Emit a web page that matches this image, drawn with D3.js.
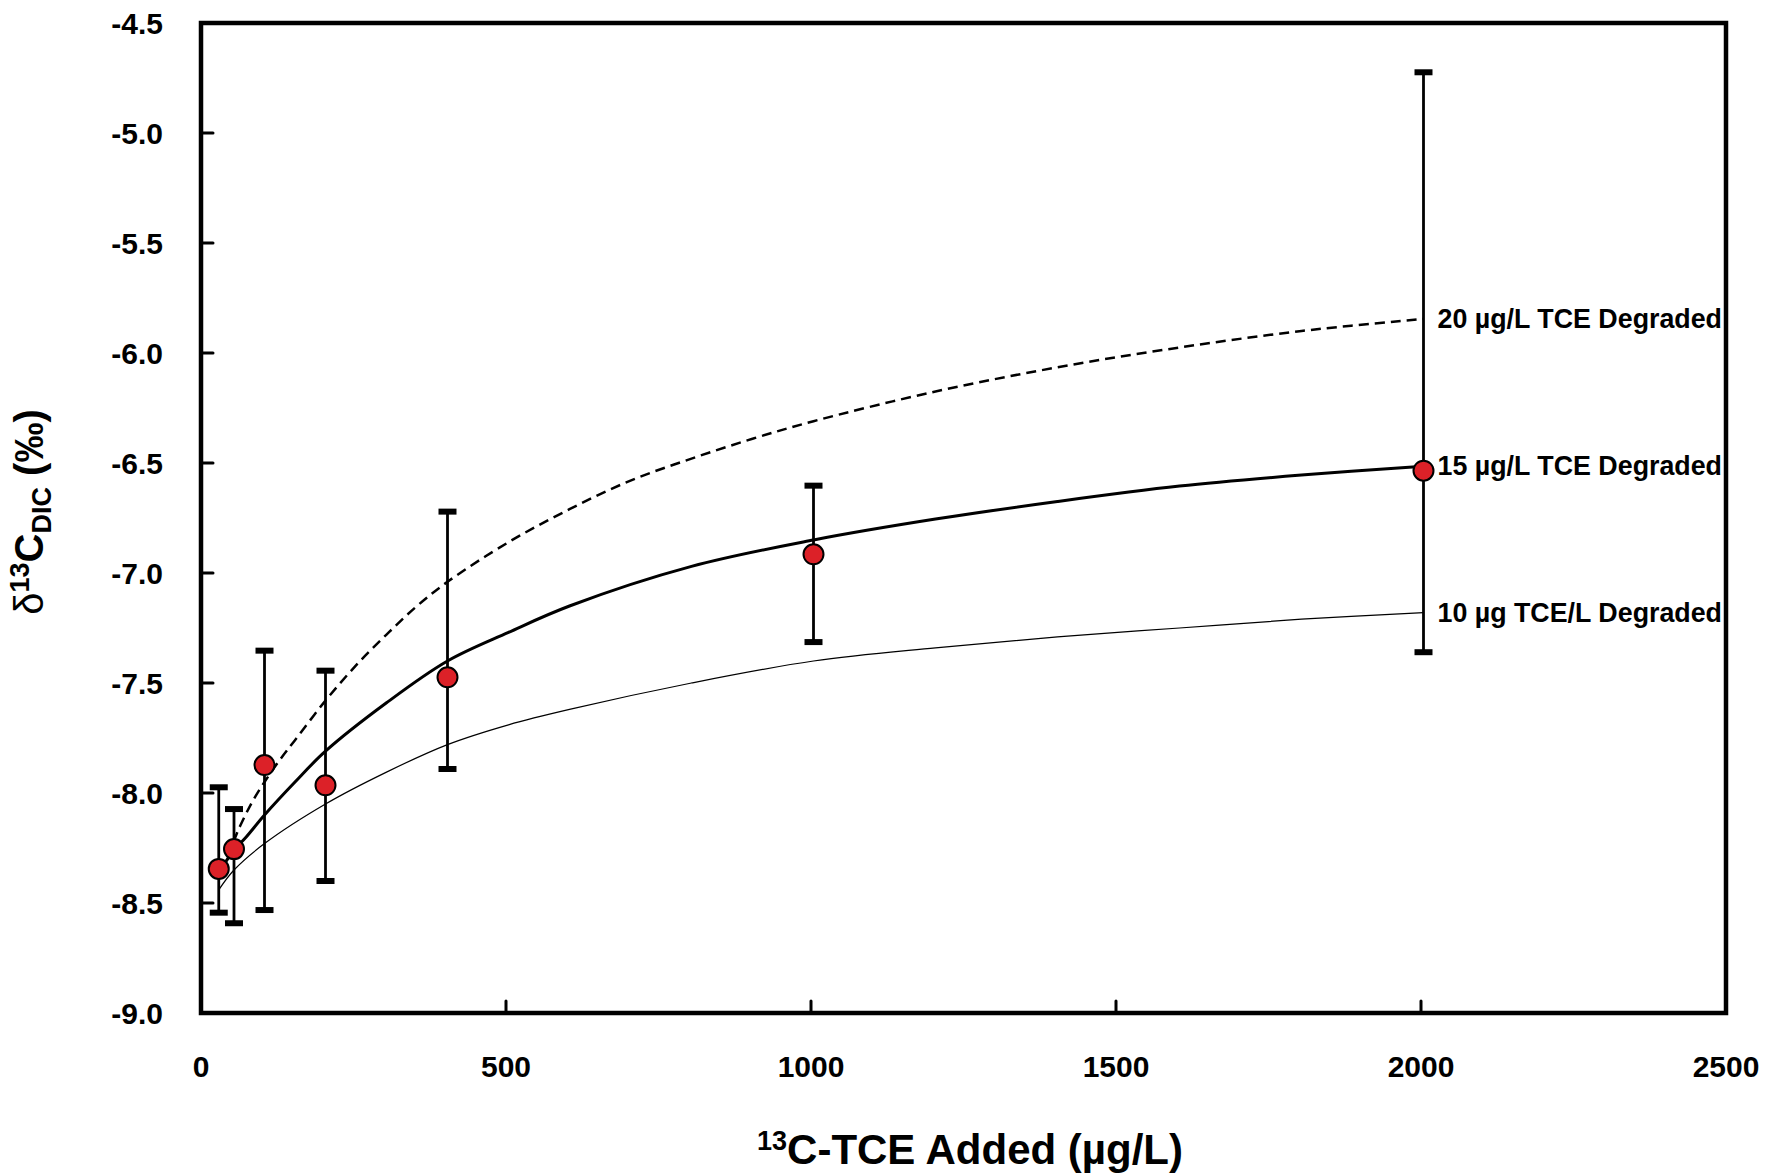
<!DOCTYPE html>
<html>
<head>
<meta charset="utf-8">
<script src="https://cdn.jsdelivr.net/npm/d3@7"></script>
<style>
  html, body { margin: 0; padding: 0; background: #fff; }
  text { font-family: "Liberation Sans", Arial, sans-serif; }
</style>
</head>
<body>
<div id="chart"></div>
<script>
// measured points (13C-TCE added vs delta13C of DIC)
const xAdded = [25, 50, 100, 200, 400, 1000, 2000];
const dMean = [-8.345, -8.255, -7.873, -7.965, -7.474, -6.915, -6.535];
const dUpper = [-7.974, -8.073, -7.353, -7.444, -6.721, -6.603, -4.724];
const dLower = [-8.544, -8.592, -8.532, -8.400, -7.891, -7.314, -7.360];

// model curves
const c10X = [25, 50, 100, 200, 300, 400, 500, 600, 800, 1000, 1200, 1400, 1600, 1800, 2000];
const c10Y = [-8.44, -8.35, -8.23, -8.05, -7.905, -7.78, -7.69, -7.62, -7.50, -7.40, -7.34, -7.29, -7.25, -7.21, -7.18];
const c15X = [25, 50, 70, 100, 150, 200, 300, 400, 500, 600, 800, 1000, 1200, 1400, 1600, 1800, 2000];
const c15Y = [-8.36, -8.26, -8.20, -8.10, -7.95, -7.81, -7.59, -7.40, -7.27, -7.15, -6.97, -6.85, -6.755, -6.675, -6.605, -6.555, -6.515];
const c20X = [25, 40, 60, 80, 100, 125, 150, 200, 250, 300, 350, 400, 500, 600, 700, 800, 900, 1000, 1200, 1400, 1600, 1800, 2000];
const c20Y = [-8.35, -8.28, -8.15, -8.04, -7.95, -7.85, -7.76, -7.58, -7.42, -7.28, -7.15, -7.04, -6.86, -6.71, -6.58, -6.48, -6.39, -6.31, -6.175, -6.065, -5.975, -5.90, -5.845];
const curveLabels = ["20 µg/L TCE Degraded", "15 µg/L TCE Degraded", "10 µg TCE/L Degraded"];

const xTicks = [0, 500, 1000, 1500, 2000, 2500];
const yTicks = [-9.0, -8.5, -8.0, -7.5, -7.0, -6.5, -6.0, -5.5, -5.0, -4.5];

const W = 1767, H = 1176;
const svg = d3.select("#chart").append("svg")
  .attr("width", W).attr("height", H);

const x = d3.scaleLinear().domain([0, 2500]).range([203.5, 1728.5]);
const y = d3.scaleLinear().domain([-9.0, -4.5]).range([1013, 23]);
const frameOff = 2.5; // frame line sits slightly left of the data origin

// frame
svg.append("rect")
  .attr("x", x(0) - frameOff).attr("y", y(-4.5))
  .attr("width", x(2500) - x(0)).attr("height", y(-9.0) - y(-4.5))
  .attr("fill", "none").attr("stroke", "#000").attr("stroke-width", 4.5);

// inward ticks
svg.selectAll(".ytick").data(yTicks).join("line")
  .attr("x1", x(0) - frameOff).attr("x2", x(0) - frameOff + 12)
  .attr("y1", d => y(d)).attr("y2", d => y(d))
  .attr("stroke", "#000").attr("stroke-width", 3).attr("stroke-linecap", "round");
svg.selectAll(".xtick").data(xTicks).join("line")
  .attr("x1", d => x(d) - frameOff).attr("x2", d => x(d) - frameOff)
  .attr("y1", y(-9.0)).attr("y2", y(-9.0) - 12)
  .attr("stroke", "#000").attr("stroke-width", 3).attr("stroke-linecap", "round");

// tick labels
svg.selectAll(".ylab").data(yTicks).join("text")
  .attr("x", 163).attr("y", d => y(d) + 10.5)
  .attr("text-anchor", "end")
  .attr("font-size", 30).attr("font-weight", "bold")
  .text(d => d.toFixed(1));
svg.selectAll(".xlab").data(xTicks).join("text")
  .attr("x", d => x(d) - frameOff).attr("y", 1077)
  .attr("text-anchor", "middle")
  .attr("font-size", 30).attr("font-weight", "bold")
  .text(d => d);

// axis titles
const xt = svg.append("text")
  .attr("x", 970).attr("y", 1164)
  .attr("text-anchor", "middle")
  .attr("font-size", 42).attr("font-weight", "bold");
xt.append("tspan").attr("font-size", 27).attr("dy", -14).text("13");
xt.append("tspan").attr("dy", 14).text("C-TCE Added (µg/L)");

const yt = svg.append("text")
  .attr("transform", "translate(43,512) rotate(-90)")
  .attr("text-anchor", "middle")
  .attr("font-size", 40).attr("font-weight", "bold");
yt.append("tspan").attr("font-weight", "normal").text("δ");
yt.append("tspan").attr("font-size", 27).attr("dy", -14).text("13");
yt.append("tspan").attr("dy", 14).text("C");
yt.append("tspan").attr("font-size", 27).attr("dy", 8).text("DIC");
yt.append("tspan").attr("dy", -8).text(" (‰)");

// model curves
const line = d3.line().x(d => x(d[0])).y(d => y(d[1])).curve(d3.curveCatmullRom.alpha(0.5));
const curves = [
  { xs: c20X, ys: c20Y, width: 2.5, dash: "10,6" },
  { xs: c15X, ys: c15Y, width: 3, dash: null },
  { xs: c10X, ys: c10Y, width: 1.2, dash: null }
];
curves.forEach((c, i) => {
  const pts = c.xs.map((v, j) => [v, c.ys[j]]);
  svg.append("path")
    .attr("d", line(pts))
    .attr("fill", "none").attr("stroke", "#000")
    .attr("stroke-width", c.width)
    .attr("stroke-dasharray", c.dash);
  const last = pts[pts.length - 1];
  svg.append("text")
    .attr("x", x(last[0]) + 14).attr("y", y(last[1]) + 9)
    .attr("font-size", 26.8).attr("font-weight", "bold")
    .text(curveLabels[i]);
});

// error bars
const pts = xAdded.map((v, i) => ({ x: v, m: dMean[i], lo: dLower[i], hi: dUpper[i] }));
svg.selectAll(".ebar").data(pts).join("line")
  .attr("x1", d => x(d.x)).attr("x2", d => x(d.x))
  .attr("y1", d => y(d.lo)).attr("y2", d => y(d.hi))
  .attr("stroke", "#000").attr("stroke-width", 2.8);
svg.selectAll(".capHi").data(pts).join("line")
  .attr("x1", d => x(d.x) - 9).attr("x2", d => x(d.x) + 9)
  .attr("y1", d => y(d.hi)).attr("y2", d => y(d.hi))
  .attr("stroke", "#000").attr("stroke-width", 6);
svg.selectAll(".capLo").data(pts).join("line")
  .attr("x1", d => x(d.x) - 9).attr("x2", d => x(d.x) + 9)
  .attr("y1", d => y(d.lo)).attr("y2", d => y(d.lo))
  .attr("stroke", "#000").attr("stroke-width", 6);

// points
svg.selectAll(".pt").data(pts).join("circle")
  .attr("cx", d => x(d.x)).attr("cy", d => y(d.m))
  .attr("r", 10)
  .attr("fill", "#dc2128").attr("stroke", "#000").attr("stroke-width", 2);
</script>
</body>
</html>
